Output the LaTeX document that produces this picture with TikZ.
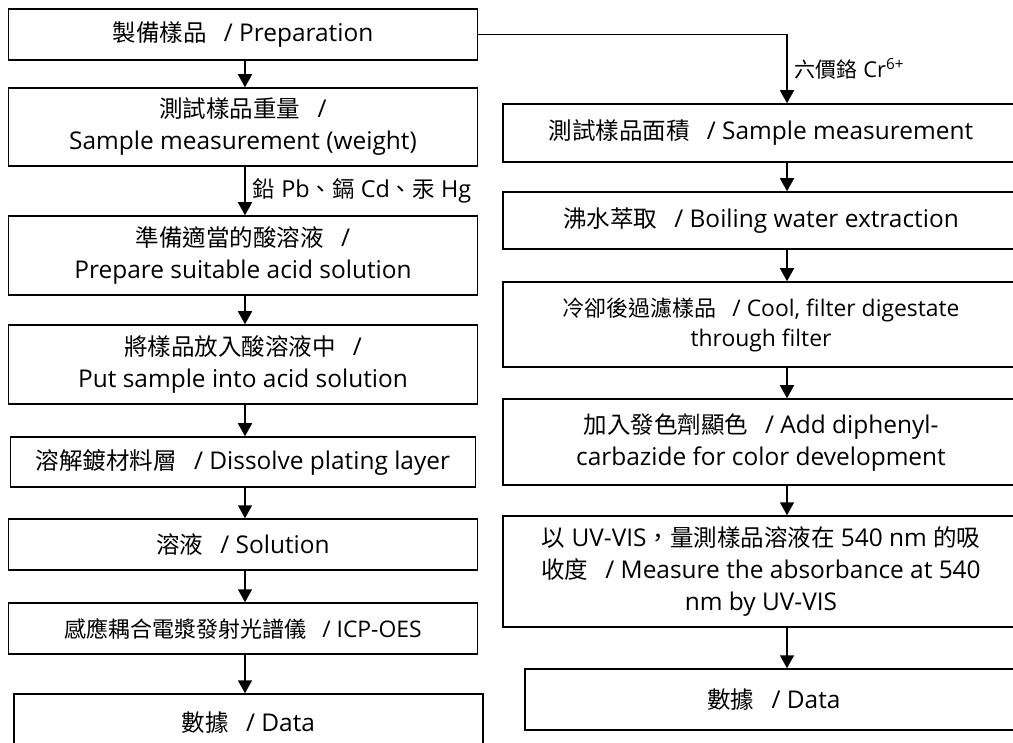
\documentclass[tikz,border=0pt]{standalone}
\usepackage{fontspec}
\setmainfont{Open Sans}[Scale=1.04]
\newfontfamily\zh{Noto Sans CJK TC}[Script=CJK, Language=Chinese Traditional]
\usetikzlibrary{arrows.meta}

\begin{document}
\begin{tikzpicture}[x=1pt, y=-1pt, line width=1.5pt, node distance=90pt,
  box/.style={rectangle, draw, align=center, inner sep=2pt, font=\fontsize{23.5}{32}\selectfont},
  lbox/.style={box, minimum width=469pt},
  rbox/.style={box, minimum width=516pt},
  flow/.style={-{Triangle[width=14pt,length=13pt]}},
  tag/.style={font=\fontsize{21}{26}\selectfont, inner sep=7pt}]

  \clip (0,0) rectangle (1013,743);

  % arrow columns
  \coordinate (lx) at (245,0);
  \coordinate (rx) at (787,0);

  % left column: Pb, Cd, Hg
  \node[lbox, minimum height=51pt] (prep) at (243,34.5) {{\zh 製備樣品}\hspace{.7em}/ Preparation};
  \node[lbox, minimum height=78pt, below of=prep, node distance=92.5pt] (weigh) {{\zh 測試樣品重量}\hspace{.7em}/\\Sample measurement (weight)};
  \node[lbox, minimum height=79pt, below of=weigh, node distance=128.5pt] (acid) {{\zh 準備適當的酸溶液}\hspace{.7em}/\\Prepare suitable acid solution};
  \node[lbox, minimum height=79pt, below of=acid, node distance=109pt] (immerse) {{\zh 將樣品放入酸溶液中}\hspace{.7em}/\\Put sample into acid solution};
  \node[lbox, minimum width=465pt, minimum height=50pt, below of=immerse, node distance=97.5pt] (dissolve) {{\zh 溶解鍍材料層}\hspace{.7em}/ Dissolve plating layer};
  \node[lbox, minimum height=51pt, below of=dissolve, node distance=82.5pt] (soln) {{\zh 溶液}\hspace{.7em}/ Solution};
  \node[lbox, minimum height=51pt, below of=soln, node distance=84pt, font=\fontsize{22}{30}\selectfont] (icp) {{\zh 感應耦合電漿發射光譜儀}\hspace{.7em}/ ICP-OES};
  \node[lbox, minimum height=58pt, below of=icp, node distance=94.5pt, xshift=5.5pt] (ldata) {{\zh 數據}\hspace{.7em}/ Data};

  % right column: Cr(VI)
  \node[rbox, minimum height=58pt] (area) at (761,133) {{\zh 測試樣品面積}\hspace{.7em}/ Sample measurement};
  \node[rbox, minimum height=57pt, below of=area, node distance=87.5pt] (boil) {{\zh 沸水萃取}\hspace{.7em}/ Boiling water extraction};
  \node[rbox, minimum height=85pt, below of=boil, node distance=104pt, font=\fontsize{22}{30}\selectfont] (filter) {{\zh 冷卻後過濾樣品}\hspace{.7em}/ Cool, filter digestate\\through filter};
  \node[rbox, minimum height=86pt, below of=filter, node distance=117.5pt] (color) {{\zh 加入發色劑顯色}\hspace{.7em}/ Add diphenyl-\\carbazide for color development};
  \node[rbox, minimum height=111pt, below of=color, node distance=129.5pt] (uvvis) {{\zh 以} UV-VIS{\zh ，量測樣品溶液在} 540 nm {\zh 的吸}\\{\zh 收度}\hspace{.7em}/ Measure the absorbance at 540\\nm by UV-VIS};
  \node[rbox, minimum width=498pt, minimum height=61pt, below of=uvvis, node distance=128pt, xshift=13pt] (rdata) {{\zh 數據}\hspace{.7em}/ Data};

  \draw[flow] (prep.south -| lx) -- (weigh.north -| lx);
  \draw[flow] (weigh.south -| lx) -- node[tag, right, font=\fontsize{22.5}{26}\selectfont] {{\zh 鉛} Pb{\zh 、鎘} Cd{\zh 、汞} Hg} (acid.north -| lx);
  \draw[flow] (acid.south -| lx) -- (immerse.north -| lx);
  \draw[flow] (immerse.south -| lx) -- (dissolve.north -| lx);
  \draw[flow] (dissolve.south -| lx) -- (soln.north -| lx);
  \draw[flow] (soln.south -| lx) -- (icp.north -| lx);
  \draw[flow] (icp.south -| lx) -- (ldata.north -| lx);

  \draw[flow] (prep.east) -| node[tag, right, pos=0.75] {{\zh 六價鉻} Cr\textsuperscript{6+}} (area.north -| rx);
  \draw[flow] (area.south -| rx) -- (boil.north -| rx);
  \draw[flow] (boil.south -| rx) -- (filter.north -| rx);
  \draw[flow] (filter.south -| rx) -- (color.north -| rx);
  \draw[flow] (color.south -| rx) -- (uvvis.north -| rx);
  \draw[flow] (uvvis.south -| rx) -- (rdata.north -| rx);
\end{tikzpicture}
\end{document}
